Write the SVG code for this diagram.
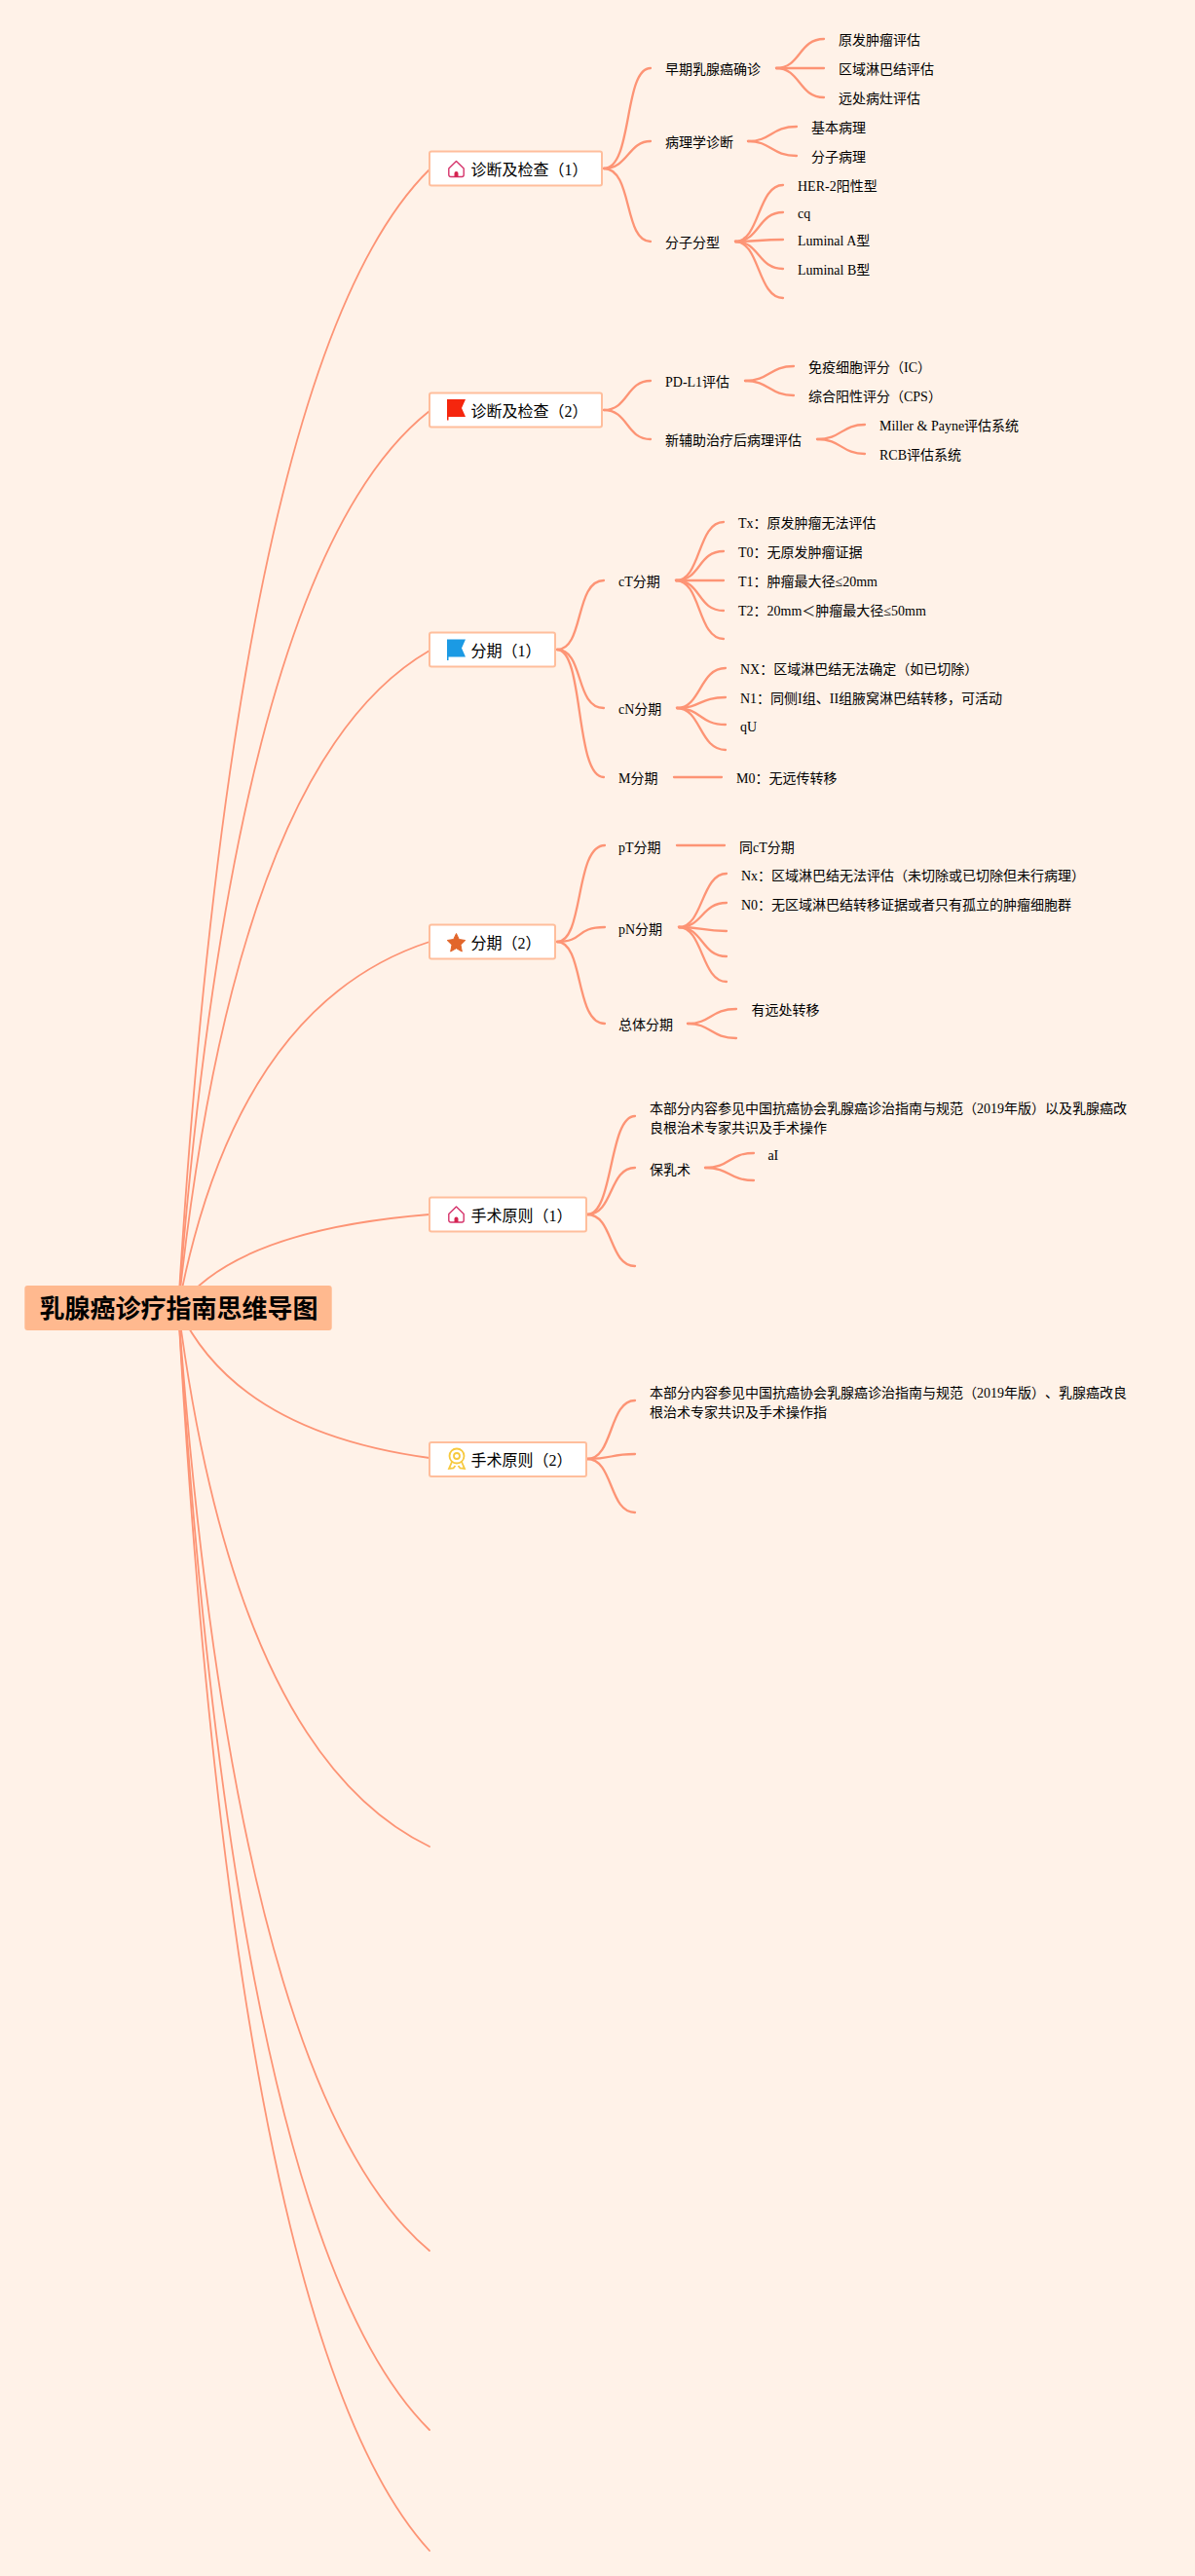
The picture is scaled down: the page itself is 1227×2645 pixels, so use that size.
<svg xmlns="http://www.w3.org/2000/svg" width="1227" height="2645" viewBox="0 0 1227 2645">
<style>
text{font-family:"Liberation Serif","Noto Sans CJK SC",serif;fill:#000;text-spacing-trim:space-all}
.l{font-size:14px}
.b{font-size:16px}
.r{font-size:26px;font-weight:700;fill:#000;font-family:"Noto Sans CJK SC","Liberation Sans",sans-serif}
.n{fill:#fff;stroke:#FFBE9C;stroke-width:2}
.c path{fill:none;stroke:#FD9475;stroke-width:2.300;stroke-linecap:round}
.c .m path{stroke-width:1.800}
</style>
<rect width="1227" height="2645" fill="#FFF2E8"/>
<g id="connectors" class="c">
<g class="m">
<path d="M183 1343Q242 370 441 174"/>
<path d="M183 1343Q242 578 441 422"/>
<path d="M183 1343Q242 783 441 668"/>
<path d="M183 1343Q242 1032 441 967"/>
<path d="M183 1343Q242 1263 441 1247"/>
<path d="M183 1343Q242 1470 441 1497"/>
<path d="M183 1343Q242 1800 441 1896"/>
<path d="M183 1343Q242 2145 441 2311"/>
<path d="M183 1343Q242 2298 441 2495"/>
<path d="M183 1343Q242 2402 441 2619"/>
</g>
<path d="M620 173C650 173 640 70 668 70"/><path d="M620 173C645 173 645 145 668 145"/><path d="M620 173C650 173 640 248 668 248"/>
<path d="M797 70C822 70 820 40 846 40"/><path d="M797 70H846"/><path d="M797 70C822 70 820 100 846 100"/>
<path d="M768 145C792 145 792 130 818 130"/><path d="M768 145C792 145 792 160 818 160"/>
<path d="M755 248C780 248 778 190 804 190"/><path d="M755 248C780 248 778 218 804 218"/><path d="M755 248C780 248 778 246 804 246"/><path d="M755 248C780 248 778 276 804 276"/><path d="M755 248C780 248 778 306 804 306"/>
<path d="M620 421C645 421 643 391 668 391"/><path d="M620 421C645 421 643 451 668 451"/>
<path d="M765 391C790 391 790 376 815 376"/><path d="M765 391C790 391 790 406 815 406"/>
<path d="M839 451C864 451 864 436 888 436"/><path d="M839 451C864 451 864 466 888 466"/>
<path d="M572 667C600 667 590 596 620 596"/><path d="M572 667C600 667 590 727 620 727"/><path d="M572 667C600 667 590 798 620 798"/>
<path d="M694 596C720 596 716 536 743 536"/><path d="M694 596C720 596 716 566 743 566"/><path d="M694 596H743"/><path d="M694 596C720 596 716 627 743 627"/><path d="M694 596C720 596 716 656 743 656"/>
<path d="M695 727C720 727 718 686 745 686"/><path d="M695 727C720 727 718 716 745 716"/><path d="M695 727C720 727 718 744 745 744"/><path d="M695 727C720 727 718 770 745 770"/>
<path d="M692 798H741"/>
<path d="M572 967C600 967 590 868 621 868"/><path d="M572 967C600 967 590 952 621 952"/><path d="M572 967C600 967 590 1051 621 1051"/>
<path d="M695 868H744"/>
<path d="M697 952C722 952 720 897 746 897"/><path d="M697 952C722 952 720 927 746 927"/><path d="M697 952C722 952 720 956 746 956"/><path d="M697 952C722 952 720 982 746 982"/><path d="M697 952C722 952 720 1008 746 1008"/>
<path d="M706 1051C730 1051 730 1036 756 1036"/><path d="M706 1051C730 1051 730 1066 756 1066"/>
<path d="M603 1247C630 1247 625 1146 652 1146"/><path d="M603 1247C630 1247 625 1199 652 1199"/><path d="M603 1247C630 1247 625 1300 652 1300"/>
<path d="M724 1199C750 1199 748 1184 774 1184"/><path d="M724 1199C750 1199 748 1212 774 1212"/>
<path d="M603 1498C630 1498 625 1438 652 1438"/><path d="M603 1498C630 1498 625 1493 652 1493"/><path d="M603 1498C630 1498 625 1553 652 1553"/>
</g>
<g id="root"><rect x="25.300" y="1320" width="315.400" height="46" rx="3" fill="#FFB98F"/><text class="r" x="40.500" y="1352.500">乳腺癌诊疗指南思维导图</text></g>
<defs>
<g id="home"><path d="M.8 8.500 8.500 1l7.700 7.500V15a2 2 0 0 1-2 2H2.800a2 2 0 0 1-2-2z" fill="none" stroke="#D5336B" stroke-width="1.400" stroke-linejoin="round"/><path d="M6.500 17v-3.500a2 2 0 0 1 4 0V17z" fill="#D5234F"/></g>
<path id="flag" d="M0 0H19L15 9 19 18H1.500V21.500H0z"/>
</defs>
<g id="b1"><rect class="n" x="441" y="155.500" width="177" height="35" rx="2"/><use href="#home" x="460" y="164.500"/><text class="b" x="483.500" y="179.500">诊断及检查（1）</text></g>
<g id="b2"><rect class="n" x="441" y="403.500" width="177" height="35" rx="2"/><use href="#flag" x="459" y="410" fill="#F5260E"/><text class="b" x="483.500" y="427.500">诊断及检查（2）</text></g>
<g id="b3"><rect class="n" x="441" y="649.500" width="129" height="35" rx="2"/><use href="#flag" x="459" y="656.500" fill="#1B9AE4"/><text class="b" x="483.500" y="673.500">分期（1）</text></g>
<g id="b4"><rect class="n" x="441" y="949.500" width="129" height="35" rx="2"/><path d="M468.500 958.500l2.800 6 6.500 1-4.800 4.700 1.300 6.800-5.800-3.300-5.800 3.300 1.300-6.800-4.800-4.700 6.500-1z" fill="#E2662B" stroke="#E2662B" stroke-linejoin="round"/><text class="b" x="483.500" y="973.500">分期（2）</text></g>
<g id="b5"><rect class="n" x="441" y="1229.500" width="161" height="35" rx="2"/><use href="#home" x="460" y="1238"/><text class="b" x="483.500" y="1253.500">手术原则（1）</text></g>
<g id="b6"><rect class="n" x="441" y="1481" width="161" height="35" rx="2"/><g fill="none" stroke="#F7C93E" stroke-width="1.800"><circle cx="469" cy="1495" r="7.500"/><circle cx="469" cy="1495" r="3"/><path d="M464 1501l-3 7 4.500-.5 2-2.500M474 1501l3 7-4.500-.5-2-2.500"/></g><text class="b" x="483.500" y="1504.500">手术原则（2）</text></g>
<g id="labels">
<text class="l" x="683" y="76">早期乳腺癌确诊</text>
<text class="l" x="861" y="46">原发肿瘤评估</text>
<text class="l" x="861" y="76">区域淋巴结评估</text>
<text class="l" x="861" y="106">远处病灶评估</text>
<text class="l" x="683" y="151">病理学诊断</text>
<text class="l" x="833" y="136">基本病理</text>
<text class="l" x="833" y="166">分子病理</text>
<text class="l" x="683" y="254">分子分型</text>
<text class="l" x="819" y="196">HER-2阳性型</text>
<text class="l" x="819" y="224">cq</text>
<text class="l" x="819" y="252">Luminal A型</text>
<text class="l" x="819" y="282">Luminal B型</text>
<text class="l" x="683" y="397">PD-L1评估</text>
<text class="l" x="683" y="457">新辅助治疗后病理评估</text>
<text class="l" x="830" y="382">免疫细胞评分（IC）</text>
<text class="l" x="830" y="412">综合阳性评分（CPS）</text>
<text class="l" x="903" y="442">Miller &amp; Payne评估系统</text>
<text class="l" x="903" y="472">RCB评估系统</text>
<text class="l" x="635" y="601.500">cT分期</text>
<text class="l" x="635" y="733">cN分期</text>
<text class="l" x="635" y="804">M分期</text>
<text class="l" x="758" y="541.500">Tx：原发肿瘤无法评估</text>
<text class="l" x="758" y="571.500">T0：无原发肿瘤证据</text>
<text class="l" x="758" y="601.500">T1：肿瘤最大径≤20mm</text>
<text class="l" x="758" y="631.500">T2：20mm＜肿瘤最大径≤50mm</text>
<text class="l" x="760" y="692">NX：区域淋巴结无法确定（如已切除）</text>
<text class="l" x="760" y="722">N1：同侧I组、II组腋窝淋巴结转移，可活动</text>
<text class="l" x="760" y="751">qU</text>
<text class="l" x="756" y="804">M0：无远传转移</text>
<text class="l" x="635" y="874.500">pT分期</text>
<text class="l" x="635" y="958.500">pN分期</text>
<text class="l" x="635" y="1057">总体分期</text>
<text class="l" x="759" y="874.500">同cT分期</text>
<text class="l" x="761" y="904">Nx：区域淋巴结无法评估（未切除或已切除但未行病理）</text>
<text class="l" x="761" y="934">N0：无区域淋巴结转移证据或者只有孤立的肿瘤细胞群</text>
<text class="l" x="771.500" y="1042">有远处转移</text>
<text class="l" x="667" y="1143">本部分内容参见中国抗癌协会乳腺癌诊治指南与规范（2019年版）以及乳腺癌改</text>
<text class="l" x="667" y="1162.500">良根治术专家共识及手术操作</text>
<text class="l" x="667" y="1205.500">保乳术</text>
<text class="l" x="788.400" y="1191">aI</text>
<text class="l" x="667" y="1435">本部分内容参见中国抗癌协会乳腺癌诊治指南与规范（2019年版）、乳腺癌改良</text>
<text class="l" x="667" y="1455">根治术专家共识及手术操作指</text>
</g>
</svg>
